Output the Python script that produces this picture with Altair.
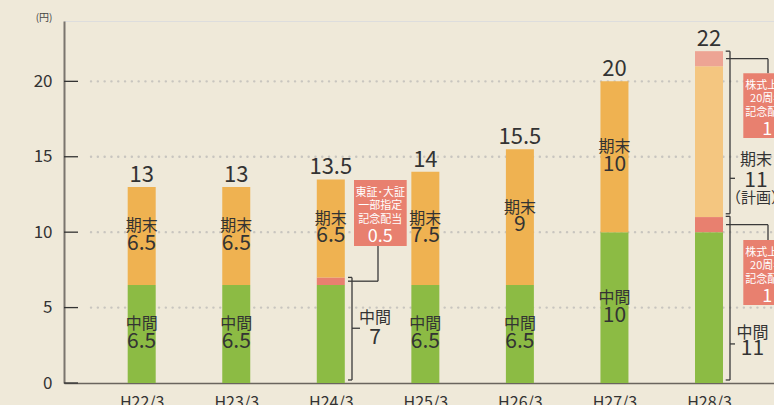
import json
import altair as alt
import pandas as pd

# ---------------- data ----------------
categories = ["H22/3", "H23/3", "H24/3", "H25/3", "H26/3", "H27/3", "H28/3"]
interim = [6.5, 6.5, 6.5, 6.5, 6.5, 10, 10]          # 中間 (regular)
interim_commem = [0, 0, 0.5, 0, 0, 0, 1]              # commemorative part of 中間
year_end = [6.5, 6.5, 6.5, 7.5, 9, 10, 10]           # 期末 (regular)
year_end_commem = [0, 0, 0, 0, 0, 0, 1]               # commemorative part of 期末
is_plan = [False, False, False, False, False, False, True]
y_ticks = [0, 5, 10, 15, 20]
grid_values = [5, 10, 15, 20]

LBL_INT = "中間"
LBL_END = "期末"
LBL_PLAN = "（計画）"
UNIT = "(円)"
box_h24 = ["東証･大証", "一部指定", "記念配当"]
box_h28 = ["株式上場", "20周年", "記念配当"]

# ---------------- layout ----------------
FONT = "Noto Sans CJK JP"
W, H = 710, 362
STEP = 94.55
FIRST = 77.7
X_MIN = -FIRST / STEP
X_MAX = X_MIN + W / STEP
Y_MAX = 24
PXU = H / Y_MAX
HALF = 14 / STEP

BG = "#efe9d9"
C_INT = "#8cbb44"
C_COM = "#e8806f"
C_END = "#efb251"
C_END_P = "#f4c680"
C_COM_P = "#eda494"
C_BOX = "#e8806f"
C_TXT = "#333333"
C_LINE = "#3a3a3a"


def ox(px):
    return px / STEP


def oy(px):
    return px / PXU


def fmt(v):
    return f"{v:g}"


n = len(categories)

# bar segments
rows = []
for i in range(n):
    plan = is_plan[i]
    parts = [
        (interim[i], C_INT),
        (interim_commem[i], C_COM),
        (year_end[i], C_END_P if plan else C_END),
        (year_end_commem[i], C_COM_P if plan else C_COM),
    ]
    base = 0
    for v, col in parts:
        if v > 0:
            rows.append(dict(x=i - HALF, x2=i + HALF, y=base, y2=base + v, color=col))
            base += v
bars_df = pd.DataFrame(rows)

# texts
texts = []


def add_text(x, y, dc, text, fs, color=C_TXT):
    # dc: pixel offset (downwards) of the glyph centre from anchor y
    texts.append(dict(x=x, y=y - oy(dc + 0.37 * fs), text=text, size=fs, color=color))


for i in range(n):
    iv = interim[i] + interim_commem[i]
    ev = year_end[i] + year_end_commem[i]
    total = iv + ev
    texts.append(dict(x=i, y=total + oy(5), text=fmt(total), size=22, color=C_TXT))
    if interim_commem[i] == 0:
        mid = iv / 2
        add_text(i, mid, -10.5, LBL_INT, 16)
        add_text(i, mid, 6.3, fmt(iv), 21)
    if year_end_commem[i] == 0 and not is_plan[i]:
        mid = iv + ev / 2
        add_text(i, mid, -10.5, LBL_END, 16)
        add_text(i, mid, 6.3, fmt(ev), 21)

segs = []


def seg(x1, y1, x2, y2):
    segs.append(dict(x=x1, y=y1, x2=x2, y2=y2))


boxes = []


def add_box(i, xl, xr, top, bottom, lines, value):
    boxes.append(dict(x=i + ox(xl), x2=i + ox(xr), y=bottom, y2=top))
    cx = i + ox((xl + xr) / 2)
    for k, t in enumerate(lines):
        add_text(cx, top, 11.5 + 13.5 * k, t, 11, "#ffffff")
    add_text(cx, top, 55, fmt(value), 18, "#ffffff")


def bracket(i, lo, hi, bx=21.2, hook=4.0):
    x = i + ox(bx)
    xl = i + ox(bx - hook)
    seg(x, lo, x, hi)
    seg(xl, hi, x, hi)
    seg(xl, lo, x, lo)


# H24/3 : interim includes commemorative dividend
i = 2
iv = interim[i] + interim_commem[i]
bracket(i, 0.2, iv)
seg(i + ox(21.2), 3.63, i + ox(29.2), 3.63)
cm = interim[i] + interim_commem[i] / 2
seg(i + ox(17.2), cm, i + ox(47.2), cm)
seg(i + ox(47.2), cm, i + ox(47.2), 9.08)
add_box(i, 23.2, 75.9, 13.46, 9.08, box_h24, interim_commem[i])
add_text(i + ox(44.2), 4.40, 0, LBL_INT, 16)
add_text(i + ox(44.2), 3.07, 0, fmt(iv), 21)

# H28/3 : both halves include commemorative dividend, year-end is a plan
i = 6
iv = interim[i] + interim_commem[i]
ev = year_end[i] + year_end_commem[i]
bracket(i, iv + 0.22, iv + ev, bx=21.0, hook=4.3)
bracket(i, 0.2, iv + 0.05, bx=21.0, hook=4.3)
seg(i + ox(21.0), 13.57, i + ox(26.0), 13.57)
seg(i + ox(21.0), 2.59, i + ox(26.0), 2.59)
cm_end = iv + year_end[i] + year_end_commem[i] / 2
cm_int = interim[i] + interim_commem[i] / 2
seg(i + ox(17.0), cm_end, i + ox(59.0), cm_end)
seg(i + ox(59.0), cm_end, i + ox(59.0), 20.53)
seg(i + ox(17.0), cm_int, i + ox(59.0), cm_int)
seg(i + ox(59.0), cm_int, i + ox(59.0), 9.48)
add_box(i, 34.3, 82.0, 20.53, 16.24, box_h28, year_end_commem[i])
add_box(i, 34.3, 82.0, 9.48, 5.17, box_h28, interim_commem[i])
add_text(i + ox(47.0), 14.85, 0, LBL_END, 16)
add_text(i + ox(47.0), 13.53, 0, fmt(ev), 21)
add_text(i + ox(47.0), 12.33, 0, LBL_PLAN, 15)
add_text(i + ox(43.5), 3.35, 0, LBL_INT, 16)
add_text(i + ox(43.5), 2.35, 0, fmt(iv), 21)

texts_df = pd.DataFrame(texts)
segs_df = pd.DataFrame(segs)
boxes_df = pd.DataFrame(boxes)

# ---------------- scales / axes ----------------
xscale = alt.Scale(domain=[X_MIN, X_MAX], nice=False, zero=False)
yscale = alt.Scale(domain=[0, Y_MAX], nice=False, zero=False)
xaxis = alt.Axis(
    values=list(range(n)),
    labelExpr=f"{json.dumps(categories)}[datum.value]",
    ticks=False, tickSize=0, grid=False, title=None,
    domainColor="#6a655e", domainWidth=1.5,
    labelFont=FONT, labelFontSize=16, labelColor=C_TXT, labelPadding=11,
    labelFlush=False, labelOverlap=False,
)
yaxis = alt.Axis(
    values=y_ticks, ticks=False, tickSize=0, grid=False,
    domainColor="#7a756e", domainWidth=2,
    labelFont=FONT, labelFontSize=17, labelColor=C_TXT, labelPadding=12,
    title=UNIT, titleAngle=0, titleX=-12, titleY=-3.5, titleAlign="right",
    titleBaseline="middle", titleFontSize=10, titleFontWeight="normal",
    titleColor="#444444", titleFont=FONT,
)


def X(f="x"):
    return alt.X(f"{f}:Q", scale=xscale, axis=xaxis)


def Y(f="y"):
    return alt.Y(f"{f}:Q", scale=yscale, axis=yaxis)


grid = alt.Chart(pd.DataFrame({"v": grid_values})).mark_rule(
    color="#c8c5bf", strokeWidth=2.4, strokeDash=[0.1, 6.7], strokeCap="round"
).encode(x=alt.value(27), x2=alt.value(W), y=Y("v"))

yticks = alt.Chart(pd.DataFrame({"v": y_ticks})).mark_rule(
    color="#333333", strokeWidth=1.3
).encode(x=alt.value(0), x2=alt.value(14), y=Y("v"))

bars = alt.Chart(bars_df).mark_rect().encode(
    x=X(), x2="x2:Q", y=Y(), y2="y2:Q", color=alt.Color("color:N", scale=None)
)

lines = alt.Chart(segs_df).mark_rule(color=C_LINE, strokeWidth=1.3).encode(
    x=X(), x2="x2:Q", y=Y(), y2="y2:Q"
)

box = alt.Chart(boxes_df).mark_rect(color=C_BOX).encode(
    x=X(), x2="x2:Q", y=Y(), y2="y2:Q"
)

labels = alt.Chart(texts_df).mark_text(
    font=FONT, align="center", baseline="alphabetic"
).encode(
    x=X(), y=Y(), text="text:N",
    size=alt.Size("size:Q", scale=None),
    color=alt.Color("color:N", scale=None),
)

chart = alt.layer(grid, yticks, bars, lines, box, labels).properties(
    width=W, height=H,
    autosize=alt.AutoSizeParams(type="none"),
    padding={"left": 64, "top": 21, "right": 0, "bottom": 22},
    background=BG,
).configure_view(strokeWidth=0).configure(font=FONT)

chart.save("out.html", embed_options={"renderer": "svg", "actions": False})
